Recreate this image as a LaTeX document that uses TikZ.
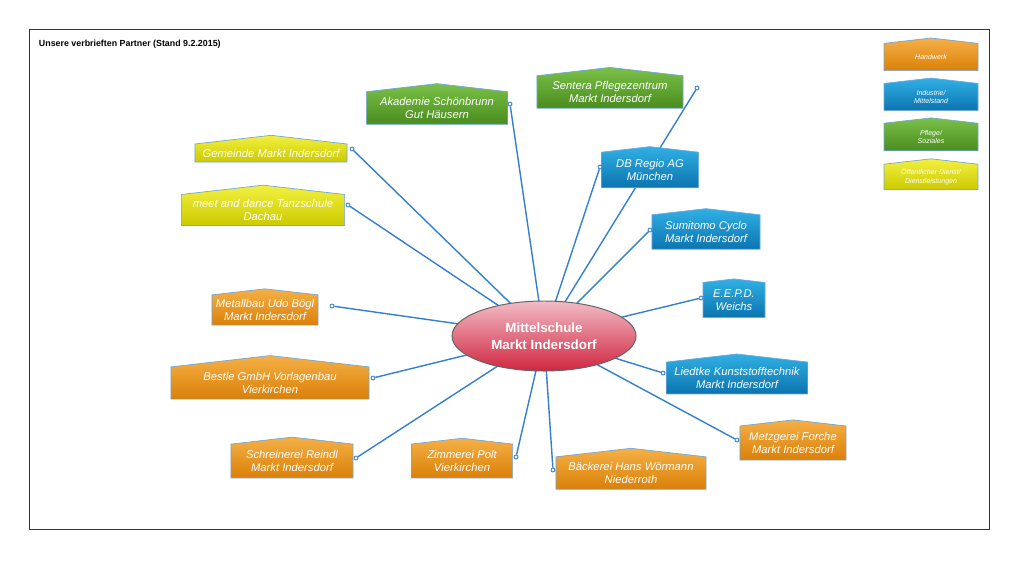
\documentclass[tikz,border=0pt]{standalone}
\usepackage{fontspec}
\setmainfont{Liberation Sans}
\usetikzlibrary{shapes.symbols,shapes.geometric,backgrounds}
\definecolor{craftTop}{RGB}{245,176,70}
\definecolor{craftBottom}{RGB}{218,128,8}
\definecolor{induTop}{RGB}{48,176,228}
\definecolor{induBottom}{RGB}{12,116,176}
\definecolor{careTop}{RGB}{122,192,72}
\definecolor{careBottom}{RGB}{74,140,30}
\definecolor{publicTop}{RGB}{242,240,64}
\definecolor{publicBottom}{RGB}{204,202,0}
\definecolor{boxEdge}{RGB}{112,168,222}
\definecolor{linkBlue}{RGB}{52,128,206}
\definecolor{hubTop}{RGB}{242,188,198}
\definecolor{hubBottom}{RGB}{208,38,64}
\definecolor{hubEdge}{RGB}{100,100,100}

\begin{document}
\begin{tikzpicture}[
  x=0.025cm, y=-0.025cm,
  every node/.style={align=center},
  partner/.style={signal, signal to=north, signal pointer angle=167, draw=boxEdge, line width=0.5pt,
    inner sep=1pt, text=white, font=\fontsize{8}{9}\selectfont\itshape},
  craft/.style={partner, top color=craftTop, bottom color=craftBottom},
  indu/.style={partner, top color=induTop, bottom color=induBottom},
  care/.style={partner, top color=careTop, bottom color=careBottom},
  public/.style={partner, top color=publicTop, bottom color=publicBottom},
  keybox/.style={minimum width=2.35cm, minimum height=0.73cm, font=\fontsize{5}{6}\selectfont\itshape},
  hub/.style={ellipse, draw=hubEdge, line width=0.7pt, top color=hubTop, bottom color=hubBottom,
    minimum width=4.6cm, minimum height=1.75cm, text=white, font=\fontsize{9.5}{12}\selectfont\bfseries},
  dot/.style={circle, draw=linkBlue, fill=white, line width=0.6pt, inner sep=0pt, minimum size=0.1cm},
  link/.style={draw=linkBlue, line width=1pt},
  maintitle/.style={font=\fontsize{6.3}{7.5}\selectfont\bfseries, anchor=west},
  frame/.style={draw=black!80, line width=0.5pt}
]
\useasboundingbox (0,0) rectangle (1024,565);
\draw[frame] (29,29) rectangle (989,529);
\node[maintitle] (title) at (34,44) {Unsere verbrieften Partner (Stand 9.2.2015)};

% - Mitte -
\node[hub] (hub) at (544,336) {Mittelschule\\Markt Indersdorf};

% - Partner links / oben -
\node[care, minimum width=3.53cm, minimum height=0.98cm] (akademie) at (437,108) {Akademie Schönbrunn\\Gut Häusern};
\node[care, minimum width=3.65cm, minimum height=0.98cm] (sentera) at (610,92) {Sentera Pflegezentrum\\Markt Indersdorf};
\node[public, minimum width=3.8cm, minimum height=0.65cm] (gemeinde) at (271,153) {Gemeinde Markt Indersdorf};
\node[public, minimum width=4.08cm, minimum height=0.98cm] (tanzschule) at (263,210) {meet and dance Tanzschule\\Dachau};
\node[craft, minimum width=2.65cm, minimum height=0.9cm] (metallbau) at (265,310) {Metallbau Udo Bögl\\Markt Indersdorf};
\node[craft, minimum width=4.95cm, minimum height=1cm] (bestle) at (270,383) {Bestle GmbH Vorlagenbau\\Vierkirchen};
\node[craft, minimum width=3.05cm, minimum height=0.98cm] (schreinerei) at (292,461) {Schreinerei Reindl\\Markt Indersdorf};
\node[craft, minimum width=2.53cm, minimum height=0.95cm] (zimmerei) at (462,461) {Zimmerei Polt\\Vierkirchen};

% - Partner rechts -
\node[indu, minimum width=2.43cm, minimum height=0.99cm] (dbregio) at (650,170) {DB Regio AG\\München};
\node[indu, minimum width=2.7cm, minimum height=0.98cm] (sumitomo) at (706,232) {Sumitomo Cyclo\\Markt Indersdorf};
\node[indu, minimum width=1.55cm, minimum height=0.94cm] (eepd) at (734,300) {E.E.P.D.\\Weichs};
\node[indu, minimum width=3.53cm, minimum height=0.98cm] (liedtke) at (737,378) {Liedtke Kunststofftechnik\\Markt Indersdorf};
\node[craft, minimum width=2.65cm, minimum height=0.98cm] (metzgerei) at (793,443) {Metzgerei Forche\\Markt Indersdorf};
\node[craft, minimum width=3.75cm, minimum height=0.99cm] (baeckerei) at (631,473) {Bäckerei Hans Wörmann\\Niederroth};

% - Legende -
\node[craft, keybox] (keycraft) at (931,57) {Handwerk};
\node[indu, keybox] (keyindu) at (931,97) {Industrie/\\Mittelstand};
\node[care, keybox] (keycare) at (931,137) {Pflege/\\Soziales};
\node[public, keybox] (keypublic) at (931,177) {Öffentlicher Dienst/\\Dienstleistungen};

% - Anschlusspunkte -
\node[dot] (p-akademie) at (510,104) {};
\node[dot] (p-sentera) at (697,88) {};
\node[dot] (p-gemeinde) at (352,149) {};
\node[dot] (p-tanzschule) at (348,205) {};
\node[dot] (p-metallbau) at (332,306) {};
\node[dot] (p-bestle) at (373,378) {};
\node[dot] (p-schreinerei) at (356,458) {};
\node[dot] (p-zimmerei) at (516,457) {};
\node[dot] (p-baeckerei) at (553,470) {};
\node[dot] (p-metzgerei) at (737,440) {};
\node[dot] (p-liedtke) at (663,373) {};
\node[dot] (p-eepd) at (701,298) {};
\node[dot] (p-sumitomo) at (650,230) {};
\node[dot] (p-dbregio) at (600,167) {};

\begin{scope}[on background layer]
  \foreach \p in {akademie,sentera,gemeinde,tanzschule,metallbau,bestle,schreinerei,
                  zimmerei,baeckerei,metzgerei,liedtke,eepd,sumitomo,dbregio}
    \draw[link] (hub.center) -- (p-\p);
\end{scope}

\end{tikzpicture}
\end{document}
